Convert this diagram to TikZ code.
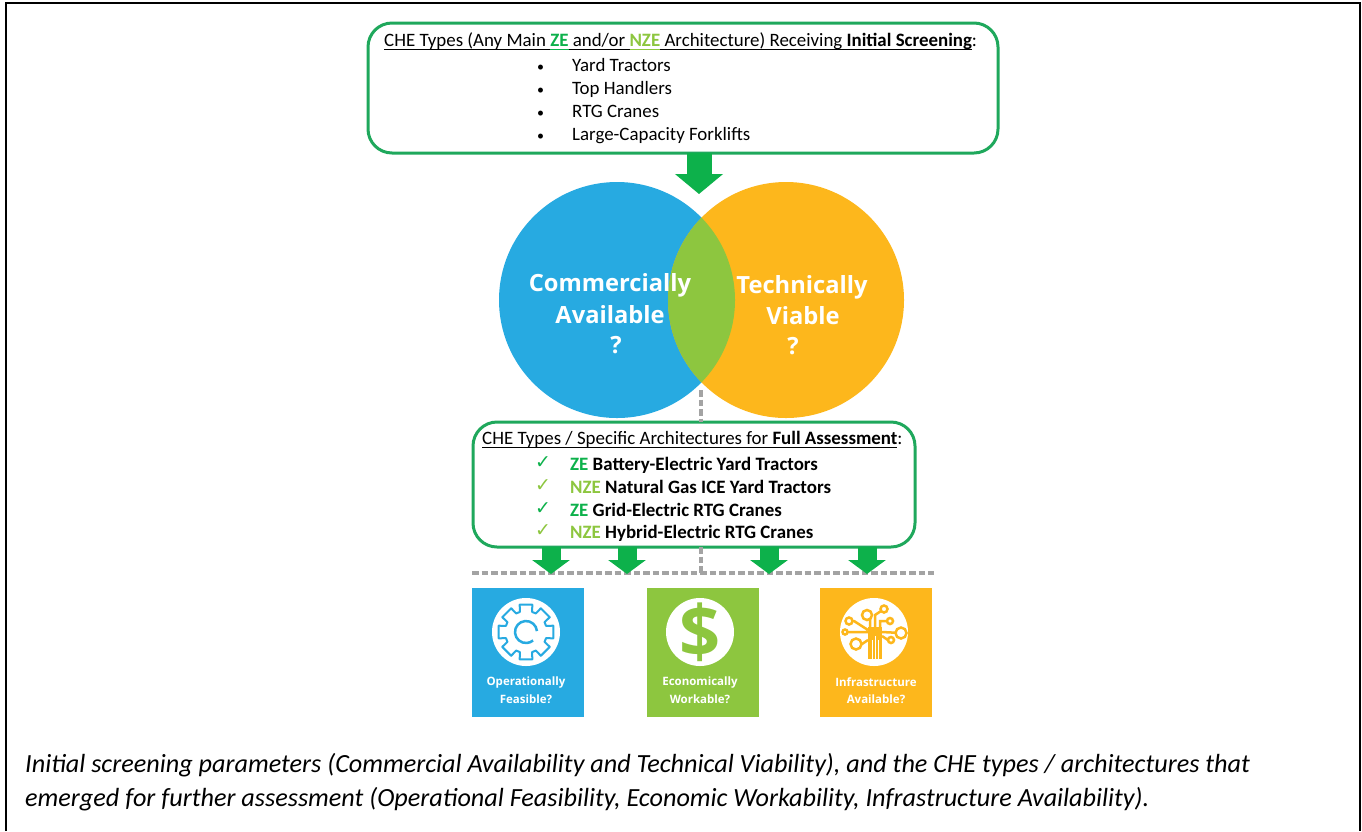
\documentclass[tikz,border=0pt]{standalone}
\usepackage{fontspec}
\setmainfont{Carlito}
\newfontfamily\venn{Open Sans}
\newfontfamily\tickfont{DejaVu Sans}
\usetikzlibrary{arrows.meta}
\definecolor{cheblue}{HTML}{27AAE1}
\definecolor{cheorange}{HTML}{FDB71C}
\definecolor{chelime}{HTML}{8DC63F}
\definecolor{chegreen}{HTML}{0DB14B}
\definecolor{cheline}{HTML}{1FA85C}
\definecolor{chegray}{HTML}{A3A3A3}
\newlength{\ulwd}
\newcommand{\ul}[1]{\settowidth{\ulwd}{#1}\rlap{\vrule width\ulwd height -2.5pt depth 3.7pt}#1}
\newcommand{\ZE}{\textcolor{chegreen}{\textbf{ZE}}}
\newcommand{\NZE}{\textcolor{chelime}{\textbf{NZE}}}
\tikzset{
  listbox/.style={draw=cheline,line width=3pt,rounded corners=24pt,inner sep=0pt,outer sep=0pt},
  body/.style={anchor=base west,inner sep=0pt,font=\fontsize{18.9}{23}\selectfont},
  vennlabel/.style={inner sep=0pt,text=white,font=\venn\bfseries\fontsize{23.7}{30}\selectfont},
  question/.style={minimum width=112pt,minimum height=129pt,inner sep=0pt},
  questionlabel/.style={inner sep=0pt,text=white,font=\venn\bfseries\fontsize{11.5}{14}\selectfont},
  badge/.style={circle,fill=white,minimum size=68pt,inner sep=0pt},
  caption/.style={anchor=base west,inner sep=0pt,font=\itshape\fontsize{26.2}{31}\selectfont},
  bigarrow/.style={chegreen,line width=25pt,-{Triangle[length=20pt,width=47pt]}},
  smallarrow/.style={chegreen,line width=19pt,-{Triangle[length=14pt,width=37pt]}},
  dashline/.style={chegray,line width=3.5pt,dash pattern=on 6.5pt off 3pt}
}
\begin{document}
\begin{tikzpicture}[x=1pt,y=-1pt]
\useasboundingbox (0,0) rectangle (1362,831);
\draw[line width=2pt] (5.5,831)--(5.5,3)--(1359.5,3)--(1359.5,831);
% venn
\node[circle,fill=cheblue,minimum size=236pt,inner sep=0pt] (commercial) at (617,300) {};
\node[circle,fill=cheorange,minimum size=236pt,inner sep=0pt] (technical) at (786,300) {};
\begin{scope}
\clip (617,300) circle (118);
\fill[chelime] (786,300) circle (118);
\end{scope}
\node[vennlabel] (comtext) at (610,285) {Commercially};
\node[vennlabel] (avatext) at (610,315) {Available};
\node[vennlabel] (comq) at (616,345) {?};
\node[vennlabel] (techtext) at (802,287) {Technically};
\node[vennlabel] (viatext) at (803,316) {Viable};
\node[vennlabel] (techq) at (793,346) {?};
% boxes
\node[listbox,minimum width=630pt,minimum height=130pt] (topbox) at (683,88) {};
\node[listbox,minimum width=442pt,minimum height=125pt] (lowbox) at (694,484.5) {};
\node[body] (toptitle) at (384,46) {\ul{CHE Types (Any Main }\textcolor{chegreen}{\ul{\textbf{ZE}}}\ul{ and/or }\textcolor{chelime}{\ul{\textbf{NZE}}}\ul{ Architecture) Receiving }\ul{\textbf{Initial Screening}}:};
\foreach \y/\ytext in {71/Yard Tractors,94/Top Handlers,117/RTG Cranes,140/Large-Capacity Forklifts}{
  \node[body,font=\fontsize{14}{16}\selectfont] (bul\y) at (537,\y) {\textbullet};
  \node[body] (item\y) at (572,\y) {\ytext};
}
\node[body] (lowtitle) at (482,444) {\ul{CHE Types / Specific Architectures for }\ul{\textbf{Full Assessment}}:};
\foreach \y/\tick/\ytext in {470/chegreen/\ZE{} Battery-Electric Yard Tractors,493/chelime/\NZE{} Natural Gas ICE Yard Tractors,516/chegreen/\ZE{} Grid-Electric RTG Cranes,538/chelime/\NZE{} Hybrid-Electric RTG Cranes}{
  \node[body,text=\tick] (tick\y) at (535,\y-2) {\tickfont\char"2713};
  \node[body] (arch\y) at (570,\y) {\textbf{\ytext}};
}
% dashed lines
\coordinate (lensdrop) at (701,390);
\coordinate (dashleft) at (472,573);
\coordinate (dashright) at (934,573);
\draw[dashline] (lensdrop) -- (lowbox.north -| lensdrop);
\draw[dashline] (lowbox.south -| lensdrop) -- (lensdrop |- dashleft);
\draw[dashline] (dashleft) -- (dashright);
% arrows
\coordinate (toptip) at (699,194);
\draw[bigarrow] (topbox.south -| toptip) -- (toptip);
\foreach \x in {551,627,769,867}{
  \coordinate (lowtip\x) at (\x,574);
  \draw[smallarrow] (lowbox.south -| lowtip\x) -- (lowtip\x);
}
% squares
\node[question,fill=cheblue] (operational) at (528,652.5) {};
\node[question,fill=chelime] (economic) at (702.5,652.5) {};
\node[question,fill=cheorange] (infrastructure) at (876,652.5) {};
\node[badge] (gearbadge) at (526,632) {};
\node[badge] (dollarbadge) at (700,632) {};
\node[badge] (treebadge) at (874,632) {};
\node[questionlabel] (optext) at (526,682) {Operationally};
\node[questionlabel] (optextb) at (526,699) {Feasible?};
\node[questionlabel] (ectext) at (700,682) {Economically};
\node[questionlabel] (ectextb) at (700,699) {Workable?};
\node[questionlabel] (intext) at (876,682) {Infrastructure};
\node[questionlabel] (intextb) at (876,699) {Available?};
% gear
\draw[cheblue,line width=2pt,line join=round,shift={(526,632)}] (-13:28)
  \foreach \a in {0,45,...,315}{ -- (\a-13:28) -- (\a+13:28) -- (\a+17:21) -- (\a+28:21) } -- cycle;
\draw[cheblue,line width=2.5pt,shift={(526,632)}] (-5:11) arc (-5:-310:11);
% dollar
\node[inner sep=0pt,text=chelime,font=\venn\bfseries\fontsize{72}{74}\selectfont] (dollar) at (700,632) {\$};
% tree
\fill[cheorange] (868,627) rectangle (882,659);
\draw[white,line width=0.7pt] (872,640)--(872,659) (875,636)--(875,659) (878,640)--(878,659);
\draw[cheorange,line width=2.5pt] (870,628)--(870,620)--(867,615) (875,628)--(875,615)--(884,609)
  (868,630)--(854,621)--(849,621) (868,632)--(845,632) (868,640)--(862,644)--(856,644)
  (880,628)--(880,621)--(890,621) (882,632)--(901,633) (882,636)--(888,640)--(891,640);
\foreach \x/\y/\r in {867/615/5,884/609/3.5,849/621/3.5,845/632/2.5,901/633/5.5,856/644/5.5,891/640/3,890/621/3}
  \draw[cheorange,line width=2.5pt,fill=white] (\x,\y) circle (\r);
% caption
\node[caption] (capone) at (25,772.5) {Initial screening parameters (Commercial Availability and Technical Viability), and the CHE types / architectures that};
\node[caption] (captwo) at (25,806) {emerged for further assessment (Operational Feasibility, Economic Workability, Infrastructure Availability).};
\end{tikzpicture}
\end{document}
